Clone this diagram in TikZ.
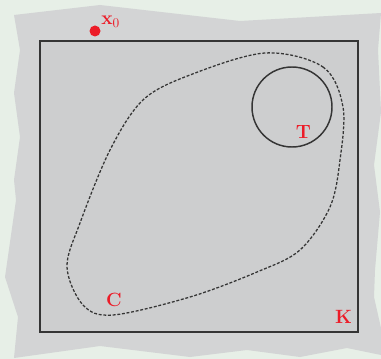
\documentclass[tikz,border=0pt]{standalone}
\usepackage{amsmath, amssymb}
\usepackage{tikz}

\definecolor{paper}{HTML}{E7EFE7}
\definecolor{torn}{HTML}{D3D4D5}
\definecolor{inner}{HTML}{CDCECF}
\definecolor{ptred}{HTML}{EC1C28}
\definecolor{edge}{HTML}{353535}

\tikzset{
	lbl/.style={text=ptred, font=\Large, inner sep=0pt, anchor=base},
}

\begin{document}
\begin{tikzpicture}[x=0.75pt, y=-0.75pt]
			% 背景
			\fill[paper] (0,0) rectangle (381,359);
			\useasboundingbox (0,0) rectangle (381,359);
			
			% 撕纸边缘
			\fill[torn] (14,15) -- (100,5) -- (240,21) -- (381,13) -- (378,50)
				-- (381,112) -- (374,165) -- (380,212) -- (375,270) -- (374,297)
				-- (381,328) -- (381,355) -- (347,348) -- (300,357) -- (247,350)
				-- (190,357) -- (100,346) -- (14,358) -- (18,317) -- (5,277)
				-- (16,200) -- (14,180) -- (20,137) -- (14,93) -- (20,50) -- cycle;
			
			% 集合 K
			\draw[edge, fill=inner, line width=1.2pt] (40,41) rectangle (358,332);
			
			% 曲线 C
			\draw[edge, line width=0.95pt, dash pattern=on 2.2pt off 1.3pt]
				plot[smooth cycle, tension=0.55] coordinates {
					(265,53) (323,67) (343,107) (340,160) (330,207) (300,250)
					(257,272) (190,297) (113,315) (83,305) (67,267) (80,223)
					(110,150) (143,100) (190,75)};
			
			% 目标 T
			\draw[edge, line width=1.1pt] (292,107) circle (40);
			
			% 起点
			\fill[ptred] (95,31) circle (5.5);
			
			% 标注
			\node[lbl, anchor=base west] (x0) at (101,25) {$\mathbf{x}_0$};
			\node[lbl] (T) at (303.5,139) {$\mathbf{T}$};
			\node[lbl] (C) at (114,306) {$\mathbf{C}$};
			\node[lbl] (K) at (343.5,323) {$\mathbf{K}$};
		\end{tikzpicture}
\end{document}
